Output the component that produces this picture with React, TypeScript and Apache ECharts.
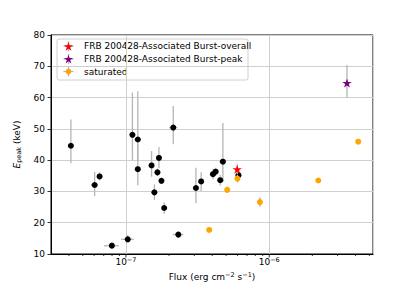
import React, { useEffect, useRef } from 'react';
import * as echarts from 'echarts';

// Black points (bursts)
const burstFlux = [4.13e-8, 6.05e-8, 6.55e-8, 7.98e-8, 1.03e-7, 1.11e-7, 1.21e-7, 1.21e-7, 1.51e-7, 1.58e-7, 1.66e-7, 1.7e-7, 1.77e-7, 1.85e-7, 2.14e-7, 2.32e-7, 3.08e-7, 3.35e-7, 4.05e-7, 4.23e-7, 4.55e-7, 4.75e-7, 6.1e-7];
const burstFluxErr = [0.14e-8, 0.33e-8, 0.21e-8, 0.95e-8, 1.04e-8, 0.5e-8, 0.6e-8, 0.4e-8, 0.5e-8, 0.75e-8, 0.5e-8, 0.55e-8, 0.55e-8, 0.6e-8, 1.4e-8, 1.95e-8, 1.5e-8, 1.1e-8, 1.3e-8, 1.4e-8, 1.5e-8, 2.6e-8, 2.0e-8];
const burstEpeak = [44.6, 32.05, 34.8, 12.65, 14.7, 48.1, 46.6, 37.1, 38.3, 29.7, 36.1, 40.7, 33.4, 24.7, 50.4, 16.2, 31.1, 33.2, 35.5, 36.3, 33.6, 39.5, 35.2];
const burstEpeakLo = [5.6, 3.5, 1.3, 1.0, 1.1, 8.0, 7.0, 5.1, 3.6, 2.4, 1.2, 3.3, 1.0, 1.8, 5.3, 1.0, 4.9, 3.1, 1.6, 1.3, 1.7, 6.5, 1.2];
const burstEpeakHi = [8.4, 4.2, 1.3, 1.2, 1.3, 13.5, 15.4, 8.0, 4.6, 2.6, 1.2, 3.5, 1.0, 1.8, 6.9, 1.0, 6.5, 2.9, 1.6, 1.3, 1.7, 12.4, 1.2];

// FRB 200428-Associated Burst-overall
const overallFlux = [5.98e-7];
const overallFluxErr = [1.2e-8];
const overallEpeak = [37.1];
const overallEpeakLo = [1.6];
const overallEpeakHi = [1.6];

// FRB 200428-Associated Burst-peak
const peakFlux = [3.49e-6];
const peakFluxErr = [3e-8];
const peakEpeak = [64.65];
const peakEpeakLo = [4.7];
const peakEpeakHi = [5.75];

// saturated
const satFlux = [3.81e-7, 5.09e-7, 6.0e-7, 8.61e-7, 2.2e-6, 4.18e-6];
const satFluxErr = [0.8e-8, 0.8e-8, 1.0e-8, 1.5e-8, 2e-8, 3e-8];
const satEpeak = [17.7, 30.5, 34.1, 26.6, 33.5, 45.9];
const satEpeakLo = [0.6, 1.0, 1.2, 1.5, 0.5, 0.5];
const satEpeakHi = [0.6, 1.0, 1.2, 1.5, 0.5, 0.5];

const legendLabels = ['FRB 200428-Associated Burst-overall', 'FRB 200428-Associated Burst-peak', 'saturated'];

const xMin = 3.0e-8;
const xMax = 5.3e-6;
const yMin = 10;
const yMax = 80;
const yInterval = 10;
const majorXTicks = [1e-7, 1e-6];
const minorXTicks = [4e-8, 5e-8, 6e-8, 7e-8, 8e-8, 9e-8, 2e-7, 3e-7, 4e-7, 5e-7, 6e-7, 7e-7, 8e-7, 9e-7, 2e-6, 3e-6, 4e-6, 5e-6];

const FONT = 'DejaVu Sans';
const ERR_COLOR = '#b5b5b5';
const STAR = 'path://M0,-1 L0.2245,-0.309 L0.951,-0.309 L0.363,0.118 L0.588,0.809 L0,0.382 L-0.588,0.809 L-0.363,0.118 L-0.951,-0.309 L-0.2245,-0.309 Z';

function zip5(a: number[], b: number[], c: number[], d: number[], e: number[]) {
  return a.map((v, i) => [v, c[i], b[i], d[i], e[i]]);
}

function errRender(params: any, api: any) {
  const x = api.value(0), y = api.value(1), xe = api.value(2), lo = api.value(3), hi = api.value(4);
  const pL = api.coord([x - xe, y]);
  const pR = api.coord([x + xe, y]);
  const pB = api.coord([x, y - lo]);
  const pT = api.coord([x, y + hi]);
  const st = { stroke: ERR_COLOR, lineWidth: 1.3 };
  return {
    type: 'group',
    children: [
      { type: 'line', shape: { x1: pL[0], y1: pL[1], x2: pR[0], y2: pR[1] }, style: st },
      { type: 'line', shape: { x1: pB[0], y1: pB[1], x2: pT[0], y2: pT[1] }, style: st },
    ],
  };
}

function tickRender(len: number) {
  return (params: any, api: any) => {
    const p = api.coord([api.value(0), yMin]);
    return {
      type: 'line',
      shape: { x1: p[0], y1: p[1], x2: p[0], y2: p[1] + len },
      style: { stroke: '#000', lineWidth: 0.8 },
    };
  };
}

function starPoints(cx: number, cy: number, r: number) {
  const pts: number[][] = [];
  for (let i = 0; i < 10; i++) {
    const rr = i % 2 === 0 ? r : r * 0.382;
    const a = -Math.PI / 2 + (i * Math.PI) / 5;
    pts.push([cx + rr * Math.cos(a), cy + rr * Math.sin(a)]);
  }
  return pts;
}

function legendGraphic() {
  const x0 = 57, y0 = 39;
  const rows = [46.3, 59, 71.5];
  const hx = 68.5;
  const colors = ['#ff0000', '#800080', '#ffa500'];
  const children: any[] = [
    { type: 'rect', shape: { x: x0, y: y0, width: 191, height: 41, r: 2 }, style: { fill: 'rgba(255,255,255,0.8)', stroke: '#d0d0d0', lineWidth: 1 } },
  ];
  rows.forEach((cy, i) => {
    children.push({ type: 'line', shape: { x1: hx - 5, y1: cy, x2: hx + 5, y2: cy }, style: { stroke: ERR_COLOR, lineWidth: 1.3 } });
    children.push({ type: 'line', shape: { x1: hx, y1: cy - 5, x2: hx, y2: cy + 5 }, style: { stroke: ERR_COLOR, lineWidth: 1.3 } });
    if (i < 2) {
      children.push({ type: 'polygon', shape: { points: starPoints(hx, cy + 0.5, 4.8) }, style: { fill: colors[i] } });
    } else {
      children.push({ type: 'circle', shape: { cx: hx, cy, r: 2.8 }, style: { fill: colors[i] } });
    }
    children.push({
      type: 'text',
      style: { x: 84, y: cy, text: legendLabels[i], fill: '#000', font: `9px "${FONT}"`, textVerticalAlign: 'middle', verticalAlign: 'middle' },
    });
  });
  return [{ type: 'group', z: 100, children }];
}

export default function App() {
  const ref = useRef<HTMLDivElement>(null);
  useEffect(() => {
    if (!ref.current) return;
    const chart = echarts.init(ref.current, undefined, { renderer: 'svg' });
    const option: any = {
      animation: false,
      backgroundColor: '#fff',
      textStyle: { fontFamily: FONT },
      grid: { left: 51, top: 35, width: 322, height: 219, show: true, borderColor: '#000', borderWidth: 1, backgroundColor: 'transparent' },
      xAxis: {
        type: 'log',
        logBase: 10,
        min: xMin,
        max: xMax,
        name: '{a|Flux (erg cm}{s|−2}{a| s}{s|−1}{a|)}',
        nameLocation: 'middle',
        nameGap: 13,
        nameTextStyle: {
          rich: {
            a: { fontSize: 9, fontFamily: FONT, color: '#000', lineHeight: 12 },
            s: { fontSize: 6.5, fontFamily: FONT, color: '#000', lineHeight: 7, verticalAlign: 'top' },
          },
        },
        axisLine: { show: true, lineStyle: { color: '#000', width: 1 } },
        axisTick: { show: false },
        splitLine: { show: true, lineStyle: { color: '#cfcfcf', width: 1 } },
        axisLabel: {
          margin: 2,
          showMinLabel: false,
          showMaxLabel: false,
          formatter: (v: number) => {
            const e = Math.log10(v);
            const r = Math.round(e);
            if (Math.abs(e - r) > 1e-6) return '';
            return `{b|10}{s|−${Math.abs(r)}}`;
          },
          rich: {
            b: { fontSize: 9, fontFamily: FONT, color: '#000', lineHeight: 12 },
            s: { fontSize: 6.5, fontFamily: FONT, color: '#000', lineHeight: 7, verticalAlign: 'top' },
          },
        },
      },
      yAxis: {
        type: 'value',
        min: yMin,
        max: yMax,
        interval: yInterval,
        name: '{i|E}{p|peak}{a| (keV)}',
        nameLocation: 'middle',
        nameRotate: 90,
        nameGap: 17,
        nameTextStyle: {
          rich: {
            i: { fontSize: 9, fontFamily: FONT, fontStyle: 'italic', color: '#000', lineHeight: 12 },
            p: { fontSize: 6.5, fontFamily: FONT, color: '#000', lineHeight: 7, verticalAlign: 'bottom' },
            a: { fontSize: 9, fontFamily: FONT, color: '#000', lineHeight: 12 },
          },
        },
        axisLine: { show: true, lineStyle: { color: '#000', width: 1 } },
        axisTick: { show: true, length: 3.5, lineStyle: { color: '#000', width: 0.8 } },
        splitLine: { show: true, lineStyle: { color: '#cfcfcf', width: 1 } },
        axisLabel: { margin: 6, fontSize: 9, fontFamily: FONT, color: '#000' },
      },
      series: [
        { type: 'custom', name: 'majorTicks', renderItem: tickRender(3.5), data: majorXTicks.map((v) => [v, yMin]), clip: false, silent: true, z: 1 },
        { type: 'custom', name: 'minorTicks', renderItem: tickRender(2), data: minorXTicks.map((v) => [v, yMin]), clip: false, silent: true, z: 1 },
        { type: 'custom', name: 'burstErr', renderItem: errRender, data: zip5(burstFlux, burstFluxErr, burstEpeak, burstEpeakLo, burstEpeakHi), z: 2 },
        { type: 'scatter', name: 'burst', data: burstFlux.map((v, i) => [v, burstEpeak[i]]), symbol: 'circle', symbolSize: 6, itemStyle: { color: '#000', opacity: 1 }, z: 3 },
        { type: 'custom', name: 'overallErr', renderItem: errRender, data: zip5(overallFlux, overallFluxErr, overallEpeak, overallEpeakLo, overallEpeakHi), z: 4 },
        { type: 'scatter', name: legendLabels[0], data: overallFlux.map((v, i) => [v, overallEpeak[i]]), symbol: STAR, symbolSize: [9.5, 9], itemStyle: { color: '#ff0000', opacity: 1 }, z: 5 },
        { type: 'custom', name: 'peakErr', renderItem: errRender, data: zip5(peakFlux, peakFluxErr, peakEpeak, peakEpeakLo, peakEpeakHi), z: 4 },
        { type: 'scatter', name: legendLabels[1], data: peakFlux.map((v, i) => [v, peakEpeak[i]]), symbol: STAR, symbolSize: [9.5, 9], itemStyle: { color: '#800080', opacity: 1 }, z: 5 },
        { type: 'custom', name: 'satErr', renderItem: errRender, data: zip5(satFlux, satFluxErr, satEpeak, satEpeakLo, satEpeakHi), z: 6 },
        { type: 'scatter', name: legendLabels[2], data: satFlux.map((v, i) => [v, satEpeak[i]]), symbol: 'circle', symbolSize: 6, itemStyle: { color: '#ffa500', opacity: 1 }, z: 7 },
      ],
      graphic: legendGraphic(),
    };
    chart.setOption(option);
    return () => chart.dispose();
  }, []);
  return <div ref={ref} style={{ width: 415, height: 291, position: 'absolute', left: 0, top: 0 }} />;
}
